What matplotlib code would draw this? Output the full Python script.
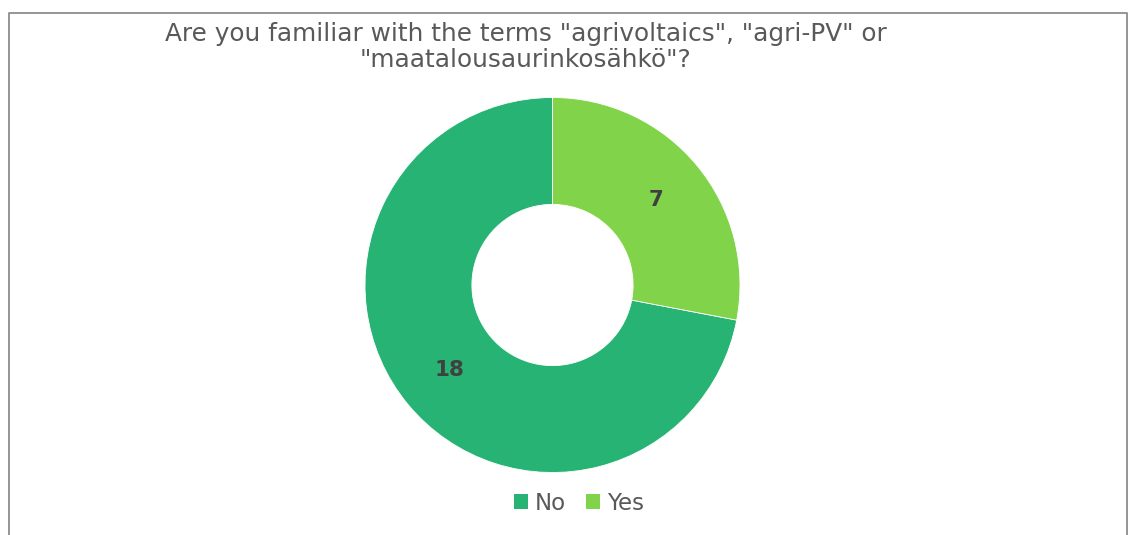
import matplotlib
matplotlib.use("Agg")
import matplotlib.pyplot as plt
from matplotlib.patches import Patch
from matplotlib.lines import Line2D

# data
labels = ["No", "Yes"]
counts = [18, 7]
colors = ["#27B373", "#81D34A"]
title = 'Are you familiar with the terms "agrivoltaics", "agri-PV" or\n"maatalousaurinkosähkö"?'

W, H = 1129, 535
fig = plt.figure(figsize=(W / 100, H / 100), dpi=100)
plt.rcParams["font.family"] = ["DejaVu Sans"]

# donut axes, square in pixels
cx, cy, r = 552.5, 285, 187.5
ax = fig.add_axes([(cx - r) / W, (H - cy - r) / H, 2 * r / W, 2 * r / H])

total = sum(counts)
wedges, texts, autotexts = ax.pie(
    counts,
    colors=colors,
    startangle=90,
    counterclock=True,
    radius=1,
    autopct=lambda p: f"{round(p * total / 100)}",
    pctdistance=0.715,
    wedgeprops=dict(width=0.57, edgecolor="white", linewidth=0.6),
    textprops=dict(fontsize=15.5, fontweight="bold", color="#404040"),
)
ax.set_xlim(-1, 1)
ax.set_ylim(-1, 1)
ax.set_aspect("equal")
ax.axis("off")

fig.text(526 / W, 1 - 22 / H, title, ha="center", va="top",
         fontsize=17.8, color="#595959", linespacing=1.08)

handles = [Patch(facecolor=c, edgecolor="none") for c in colors]
fig.legend(handles, labels, loc="center", bbox_to_anchor=(579 / W, 1 - 503 / H),
           ncol=2, frameon=False, fontsize=16.5, labelcolor="#595959",
           handlelength=0.6, handleheight=0.6, handletextpad=0.3,
           columnspacing=0.9)

# chart border (bottom edge cut off)
bx0, bx1, by = 9 / W, 1127 / W, 1 - 12.5 / H
fig.add_artist(Line2D([bx0, bx0, bx1, bx1], [0, by, by, 0],
                      transform=fig.transFigure, color="#8c8c8c", linewidth=1.3))

fig.savefig("out.png", dpi=100)
